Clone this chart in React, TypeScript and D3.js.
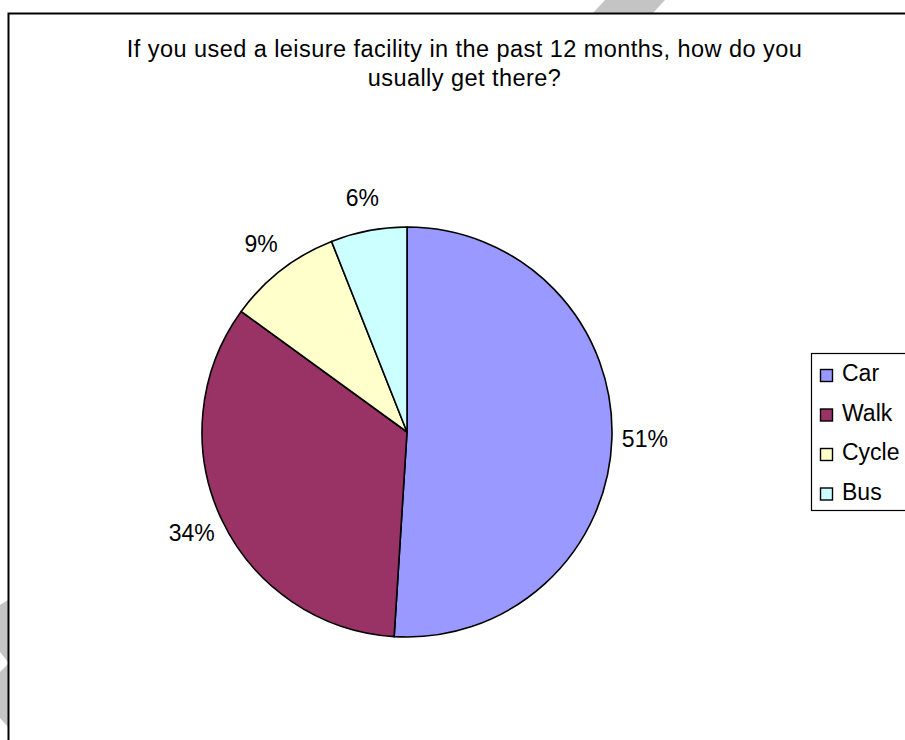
import React from "react";
import * as d3 from "d3";

const categories = ["Car", "Walk", "Cycle", "Bus"];
const values = [51, 34, 9, 6];
const colors = ["#9999FF", "#993366", "#FFFFCC", "#CCFFFF"];
const titleLines = [
  "If you used a leisure facility in the past 12 months, how do you",
  "usually get there?",
];

const W = 905;
const H = 740;
const FONT = "'Liberation Sans', Arial, sans-serif";

export default function App() {
  const cx = 407;
  const cy = 432;
  const r = 205;
  const labelR = 238;

  const pie = d3
    .pie<number>()
    .sort(null)
    .startAngle(0)
    .endAngle(2 * Math.PI);
  const arcs = pie(values);
  const arcGen = d3.arc<d3.PieArcDatum<number>>().innerRadius(0).outerRadius(r);
  const labelArc = d3
    .arc<d3.PieArcDatum<number>>()
    .innerRadius(labelR)
    .outerRadius(labelR);

  const legendY = d3
    .scalePoint<string>()
    .domain(categories)
    .range([375.5, 375.5 + 39.5 * (categories.length - 1)]);

  return (
    <svg
      width={W}
      height={H}
      style={{ position: "absolute", left: 0, top: 0, background: "#fff" }}
      fontFamily={FONT}
    >
      <rect x={0} y={0} width={W} height={H} fill="#fff" />
      {/* page artifacts */}
      <polygon points="605,0 665,0 653,13 593,13" fill="#c4c4c4" />
      <polygon points="0,605 8,600 8,662 0,652" fill="#c4c4c4" />
      <polygon points="0,672 8,664 8,727 0,718" fill="#c4c4c4" />

      {/* chart border */}
      <rect x={8.5} y={13.5} width={912} height={800} fill="#fff" stroke="#000" strokeWidth={2} />

      {/* title */}
      {titleLines.map((t, i) => (
        <text
          key={i}
          x={464.5}
          y={56.5 + i * 29}
          textAnchor="middle"
          fontSize={23.5}
          letterSpacing={0.45}
          fill="#000"
        >
          {t}
        </text>
      ))}

      {/* pie */}
      <g transform={`translate(${cx},${cy})`}>
        {arcs.map((a, i) => (
          <path
            key={categories[i]}
            d={arcGen(a) || ""}
            fill={colors[i]}
            stroke="#000"
            strokeWidth={1.6}
            strokeLinejoin="round"
          />
        ))}
        {arcs.map((a, i) => {
          const [lx, ly] = labelArc.centroid(a);
          return (
            <text
              key={"l" + i}
              x={lx}
              y={ly}
              textAnchor="middle"
              dominantBaseline="central"
              fontSize={23}
              fill="#000"
            >
              {`${values[i]}%`}
            </text>
          );
        })}
      </g>

      {/* legend */}
      <rect x={811.5} y={353.5} width={120} height={157} fill="#fff" stroke="#000" strokeWidth={1.2} />
      {categories.map((c, i) => {
        const y = legendY(c) as number;
        return (
          <g key={"lg" + c}>
            <rect
              x={820.5}
              y={y - 6}
              width={12}
              height={12}
              fill={colors[i]}
              stroke="#000"
              strokeWidth={1.4}
            />
            <text x={842} y={y + 5.5} fontSize={23} fill="#000">
              {c}
            </text>
          </g>
        );
      })}
    </svg>
  );
}
